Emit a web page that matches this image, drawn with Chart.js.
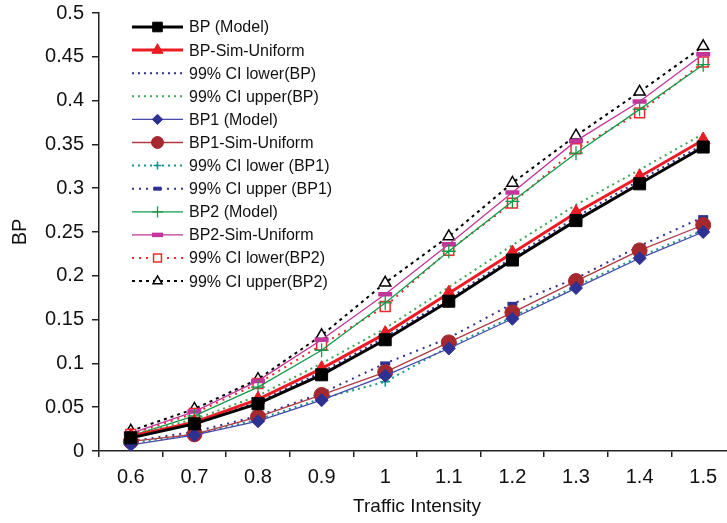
<!DOCTYPE html>
<html>
<head>
<meta charset="utf-8">
<script src="https://cdn.jsdelivr.net/npm/chart.js@4/dist/chart.umd.min.js"></script>
<style>
    html, body { margin: 0; padding: 0; background: #fff; overflow: hidden; }
    #graficoBP { display: block; }
</style>
</head>
<body>
<canvas id="graficoBP" width="735" height="523"></canvas>
<script>
    /*      DATOS     */
    const intensity = ['0.6', '0.7', '0.8', '0.9', '1', '1.1', '1.2', '1.3', '1.4', '1.5'];
    const yTicks = [0, 0.05, 0.1, 0.15, 0.2, 0.25, 0.3, 0.35, 0.4, 0.45, 0.5];

    const bpModel    = [0.015, 0.031, 0.054, 0.087, 0.127, 0.171, 0.218, 0.263, 0.305, 0.347];
    const bpSim      = [0.017, 0.033, 0.059, 0.094, 0.134, 0.180, 0.226, 0.272, 0.313, 0.355];
    const ciLowerBP  = [0.016, 0.031, 0.056, 0.090, 0.130, 0.174, 0.221, 0.267, 0.309, 0.350];
    const ciUpperBP  = [0.019, 0.036, 0.063, 0.100, 0.140, 0.187, 0.235, 0.281, 0.321, 0.362];
    const bp1Model   = [0.007, 0.018, 0.034, 0.058, 0.086, 0.117, 0.151, 0.186, 0.220, 0.250];
    const bp1Sim     = [0.011, 0.019, 0.039, 0.064, 0.090, 0.124, 0.158, 0.194, 0.229, 0.258];
    const ciLowerBP1 = [0.009, 0.019, 0.036, 0.060, 0.079, 0.119, 0.153, 0.188, 0.222, 0.252];
    const ciUpperBP1 = [0.011, 0.022, 0.040, 0.066, 0.100, 0.129, 0.168, 0.197, 0.234, 0.267];
    const bp2Model   = [0.017, 0.040, 0.073, 0.115, 0.169, 0.228, 0.285, 0.340, 0.390, 0.441];
    const bp2Sim     = [0.020, 0.045, 0.080, 0.127, 0.179, 0.236, 0.295, 0.354, 0.399, 0.453];
    const ciLowerBP2 = [0.019, 0.043, 0.077, 0.121, 0.165, 0.229, 0.283, 0.345, 0.386, 0.444];
    const ciUpperBP2 = [0.023, 0.048, 0.082, 0.132, 0.192, 0.245, 0.306, 0.360, 0.410, 0.462];

    const fuente = "'Liberation Sans', Arial, Helvetica, sans-serif";

    function serie(label, data, color, extra) {
        return Object.assign({
            label: label,
            data: data,
            borderColor: color,
            backgroundColor: color,
            pointBackgroundColor: color,
            pointBorderColor: color,
            borderWidth: 1.3,
            pointRadius: 0,
            pointBorderWidth: 1,
            tension: 0,
            fill: false
        }, extra || {});
    }

    var datasets = [
        serie('BP (Model)', bpModel, '#000000', { borderWidth: 3, pointStyle: 'rect', pointRadius: 8.5 }),
        serie('BP-Sim-Uniform', bpSim, '#ec1c24', { borderWidth: 3, pointStyle: 'triangle', pointRadius: 8 }),
        serie('99% CI lower(BP)', ciLowerBP, '#2e3192', { borderWidth: 2, borderDash: [2, 4] }),
        serie('99% CI upper(BP)', ciUpperBP, '#3aa656', { borderWidth: 2, borderDash: [2, 4] }),
        serie('BP1 (Model)', bp1Model, '#454aa5', { pointStyle: 'rectRot', pointRadius: 6.5, pointBackgroundColor: '#2e3192', pointBorderColor: '#2e3192' }),
        serie('BP1-Sim-Uniform', bp1Sim, '#b03a44', { pointStyle: 'circle', pointRadius: 7.5, pointBackgroundColor: '#a6282f', pointBorderColor: '#a6282f' }),
        serie('99% CI lower (BP1)', ciLowerBP1, '#16958f', { borderWidth: 2, borderDash: [2, 4], pointStyle: 'cross', pointRadius: 5, pointBorderWidth: 1.5 }),
        serie('99% CI upper (BP1)', ciUpperBP1, '#2e3192', { borderWidth: 2, borderDash: [2, 5], pointStyle: 'line', pointRadius: 5, pointBorderWidth: 4 }),
        serie('BP2 (Model)', bp2Model, '#129a4a', { pointStyle: 'cross', pointRadius: 7, pointBorderWidth: 1.3 }),
        serie('BP2-Sim-Uniform', bp2Sim, '#c2359b', { pointStyle: 'line', pointRadius: 7, pointBorderWidth: 4.5 }),
        serie('99% CI lower(BP2)', ciLowerBP2, '#ee2a2a', { borderWidth: 2, borderDash: [2, 5], pointStyle: 'rect', pointRadius: 7, pointBackgroundColor: '#ffffff', pointBorderWidth: 1.5 }),
        serie('99% CI upper(BP2)', ciUpperBP2, '#000000', { borderWidth: 2, borderDash: [3, 4], pointStyle: 'triangle', pointRadius: 6.5, pointBackgroundColor: '#ffffff', pointBorderWidth: 1.5 })
    ];

    // leyenda dibujada a mano dentro del area del grafico (linea + marcador)
    var leyendaPlugin = {
        id: 'leyendaBP',
        afterDraw: function(chart) {
            var ctx = chart.ctx;
            var x0 = 132, x1 = 183, xt = 189, y0 = 27, paso = 23.1;
            ctx.save();
            chart.data.datasets.forEach(function(ds, i) {
                var y = y0 + i * paso;
                ctx.beginPath();
                ctx.setLineDash(ds.borderDash || []);
                ctx.lineWidth = ds.borderWidth;
                ctx.strokeStyle = ds.borderColor;
                ctx.moveTo(x0, y);
                ctx.lineTo(x1, y);
                ctx.stroke();
                ctx.setLineDash([]);
                if (ds.pointRadius > 0) {
                    ctx.fillStyle = ds.pointBackgroundColor;
                    ctx.strokeStyle = ds.pointBorderColor;
                    ctx.lineWidth = ds.pointBorderWidth;
                    Chart.helpers.drawPoint(ctx, {
                        pointStyle: ds.pointStyle,
                        radius: ds.pointRadius * 0.8,
                        rotation: 0,
                        borderWidth: ds.pointBorderWidth
                    }, (x0 + x1) / 2, y);
                }
                ctx.fillStyle = '#111';
                ctx.font = '16px ' + fuente;
                ctx.textBaseline = 'middle';
                ctx.textAlign = 'left';
                ctx.fillText(ds.label, xt, y + 1);
            });
            ctx.restore();
        }
    };

    function generarGrafico() {
        var ctx = document.getElementById('graficoBP').getContext('2d');
        var myChart = new Chart(ctx, {
            type: 'line',
            data: {
                labels: intensity,
                datasets: datasets
            },
            options: {
                responsive: false,
                animation: false,
                devicePixelRatio: 1,
                layout: {
                    autoPadding: false,
                    padding: { left: 8, top: 13, right: 0, bottom: 0 }
                },
                plugins: {
                    legend: { display: false },
                    tooltip: { enabled: false }
                },
                scales: {
                    x: {
                        type: 'category',
                        offset: true,
                        grid: {
                            offset: true,
                            drawOnChartArea: false,
                            drawTicks: true,
                            tickLength: 6,
                            color: '#222',
                            lineWidth: 1.5
                        },
                        border: { color: '#222', width: 1.5 },
                        ticks: {
                            color: '#111',
                            padding: 8,
                            font: { family: fuente, size: 20 }
                        },
                        title: {
                            display: true,
                            text: 'Traffic Intensity',
                            color: '#111',
                            padding: { top: 0, bottom: 5 },
                            font: { family: fuente, size: 19 }
                        },
                        afterFit: function(scale) {
                            scale.height = 72;
                            scale.paddingLeft = 0;
                            scale.paddingRight = 0;
                        }
                    },
                    y: {
                        min: 0,
                        max: 0.5,
                        afterBuildTicks: function(scale) {
                            scale.ticks = yTicks.map(function(v) { return { value: v }; });
                        },
                        grid: {
                            drawOnChartArea: false,
                            drawTicks: true,
                            tickLength: 7,
                            color: '#222',
                            lineWidth: 1.5
                        },
                        border: { color: '#222', width: 1.5 },
                        ticks: {
                            color: '#111',
                            padding: 8,
                            font: { family: fuente, size: 20 },
                            callback: function(v) { return String(parseFloat(Number(v).toFixed(2))); }
                        },
                        title: {
                            display: true,
                            text: 'BP',
                            color: '#111',
                            padding: { top: 0, bottom: 0 },
                            font: { family: fuente, size: 20 }
                        },
                        afterFit: function(scale) {
                            scale.width = 91;
                            scale.paddingTop = 0;
                            scale.paddingBottom = 0;
                        }
                    }
                }
            },
            plugins: [leyendaPlugin]
        });
    }

    generarGrafico();
</script>
</body>
</html>
